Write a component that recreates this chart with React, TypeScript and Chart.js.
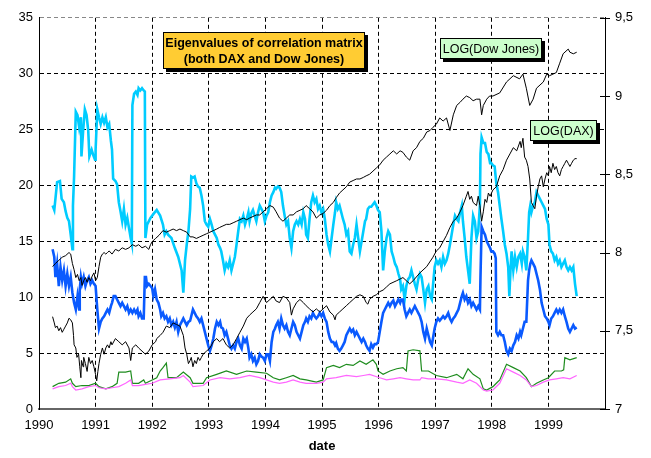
import React, { useEffect, useRef } from "react";
import { Chart, registerables } from "chart.js";

Chart.register(...registerables);

const FONT = "'Liberation Sans', Arial, Helvetica, sans-serif";

// x axis: calendar years
const yearTicks = [1990, 1991, 1992, 1993, 1994, 1995, 1996, 1997, 1998, 1999, 2000];
const leftTicks = [0, 5, 10, 15, 20, 25, 30, 35];
const rightTicks = [7, 7.5, 8, 8.5, 9, 9.5];

// Largest eigenvalue (cyan) [date, value]
const eigen1: [number, number][] = [
  [1990.24,18.2],[1990.27,17.8],[1990.32,20.3],[1990.37,20.4],[1990.40,18.8],[1990.44,18.5],[1990.47,17.7],[1990.50,17.1],[1990.53,16.8],[1990.56,15.6],[1990.59,14.3],[1990.60,18.2],[1990.62,20.8],[1990.65,26.6],[1990.68,26.3],[1990.71,25.2],[1990.74,26.1],[1990.75,22.6],[1990.78,24.9],[1990.81,26.8],[1990.84,26.3],[1990.87,24.9],[1990.89,22.6],[1990.93,23.2],[1990.96,22.7],[1990.99,22.3],[1991.00,23.2],[1991.03,26.8],[1991.06,26.1],[1991.09,25.5],[1991.12,26.1],[1991.15,25.6],[1991.18,26.1],[1991.21,25.2],[1991.24,25.5],[1991.27,24.0],[1991.29,23.2],[1991.31,20.6],[1991.35,20.4],[1991.38,20.1],[1991.41,18.5],[1991.44,17.7],[1991.47,16.8],[1991.50,17.9],[1991.53,16.5],[1991.56,17.1],[1991.59,16.2],[1991.62,15.3],[1991.64,14.8],[1991.65,27.2],[1991.68,28.2],[1991.71,28.4],[1991.74,28.1],[1991.76,28.7],[1991.79,28.5],[1991.82,28.7],[1991.85,28.5],[1991.87,28.4],[1991.88,15.3],[1991.91,16.5],[1991.97,17.1],[1992.03,17.5],[1992.08,17.8],[1992.14,17.3],[1992.19,16.5],[1992.22,15.6],[1992.25,15.9],[1992.28,15.6],[1992.34,15.3],[1992.40,14.4],[1992.46,13.6],[1992.52,12.4],[1992.55,10.4],[1992.58,13.3],[1992.61,14.7],[1992.64,15.9],[1992.67,17.9],[1992.69,20.8],[1992.72,20.7],[1992.75,20.8],[1992.78,20.2],[1992.81,19.9],[1992.84,19.8],[1992.87,19.1],[1992.90,18.2],[1992.93,16.8],[1992.96,16.5],[1992.99,16.3],[1993.02,17.0],[1993.05,16.5],[1993.08,15.9],[1993.11,15.6],[1993.14,15.3],[1993.17,14.7],[1993.20,14.4],[1993.22,14.1],[1993.25,13.3],[1993.28,12.4],[1993.31,13.0],[1993.34,12.7],[1993.37,13.3],[1993.40,12.4],[1993.43,13.0],[1993.46,13.6],[1993.49,14.7],[1993.52,15.9],[1993.55,17.0],[1993.58,16.8],[1993.61,17.3],[1993.64,16.5],[1993.67,17.0],[1993.70,17.6],[1993.72,16.8],[1993.75,17.5],[1993.78,17.8],[1993.81,17.3],[1993.84,16.8],[1993.87,17.6],[1993.90,18.2],[1993.96,17.6],[1993.99,16.8],[1994.02,17.3],[1994.05,17.6],[1994.08,18.5],[1994.11,19.1],[1994.14,19.4],[1994.17,19.8],[1994.19,19.7],[1994.22,19.9],[1994.25,19.8],[1994.28,19.4],[1994.31,18.2],[1994.34,17.3],[1994.37,16.5],[1994.40,16.8],[1994.43,15.3],[1994.46,14.4],[1994.49,15.9],[1994.52,16.5],[1994.55,16.8],[1994.58,16.5],[1994.61,17.0],[1994.64,16.5],[1994.67,17.6],[1994.70,17.0],[1994.72,15.6],[1994.75,15.3],[1994.78,17.0],[1994.81,18.5],[1994.84,19.1],[1994.87,18.5],[1994.90,18.8],[1994.93,17.9],[1994.96,18.2],[1994.99,17.6],[1995.02,17.9],[1995.05,17.0],[1995.08,15.6],[1995.11,14.7],[1995.14,14.1],[1995.17,15.3],[1995.20,16.5],[1995.23,17.6],[1995.25,18.5],[1995.28,17.9],[1995.31,18.2],[1995.34,17.6],[1995.37,17.0],[1995.40,16.5],[1995.43,15.6],[1995.46,15.9],[1995.49,14.1],[1995.52,13.9],[1995.55,14.7],[1995.58,15.3],[1995.61,16.5],[1995.64,15.3],[1995.67,14.1],[1995.70,15.0],[1995.73,15.9],[1995.76,16.8],[1995.78,17.0],[1995.81,17.9],[1995.84,18.1],[1995.87,18.1],[1995.90,18.3],[1995.93,18.5],[1995.96,18.2],[1995.99,17.8],[1996.02,17.6],[1996.05,15.9],[1996.08,12.4],[1996.11,14.1],[1996.14,15.3],[1996.17,15.9],[1996.20,15.6],[1996.23,14.1],[1996.26,13.6],[1996.29,13.0],[1996.32,12.7],[1996.35,12.1],[1996.38,11.6],[1996.40,10.7],[1996.43,11.0],[1996.46,9.8],[1996.49,11.0],[1996.52,11.6],[1996.55,11.8],[1996.58,12.4],[1996.61,11.8],[1996.64,11.2],[1996.67,10.7],[1996.70,11.6],[1996.73,12.1],[1996.76,11.8],[1996.79,10.7],[1996.82,9.5],[1996.85,10.7],[1996.88,11.0],[1996.91,10.1],[1996.94,9.8],[1996.96,11.0],[1996.99,12.7],[1997.02,13.3],[1997.05,13.0],[1997.08,13.3],[1997.11,12.7],[1997.14,13.6],[1997.17,13.0],[1997.20,13.3],[1997.23,13.9],[1997.26,14.7],[1997.29,15.6],[1997.32,16.5],[1997.35,17.3],[1997.38,17.0],[1997.41,16.8],[1997.44,17.6],[1997.47,18.2],[1997.49,16.8],[1997.52,15.3],[1997.55,13.6],[1997.58,12.4],[1997.61,11.2],[1997.64,15.3],[1997.67,17.3],[1997.70,16.8],[1997.73,15.3],[1997.76,15.9],[1997.79,18.2],[1997.80,22.8],[1997.82,24.3],[1997.85,23.8],[1997.88,23.8],[1997.91,23.0],[1997.94,22.8],[1997.97,22.0],[1997.99,22.0],[1998.02,21.8],[1998.05,21.7],[1998.08,20.2],[1998.11,19.4],[1998.14,18.2],[1998.17,17.0],[1998.20,15.9],[1998.23,14.7],[1998.26,13.9],[1998.29,12.7],[1998.31,10.1],[1998.33,12.4],[1998.35,14.1],[1998.38,12.4],[1998.41,13.6],[1998.44,12.7],[1998.47,13.6],[1998.50,13.9],[1998.53,13.0],[1998.55,14.1],[1998.58,13.6],[1998.61,12.4],[1998.64,15.3],[1998.66,17.6],[1998.68,18.2],[1998.70,17.6],[1998.73,18.2],[1998.76,18.5],[1998.79,19.4],[1998.82,19.1],[1998.85,18.8],[1998.88,18.5],[1998.91,18.2],[1998.94,17.9],[1998.97,17.0],[1999.00,16.5],[1999.02,14.7],[1999.05,14.1],[1999.08,13.9],[1999.11,13.3],[1999.14,13.6],[1999.17,13.0],[1999.20,13.3],[1999.23,12.7],[1999.26,13.0],[1999.29,13.3],[1999.32,12.7],[1999.35,12.4],[1999.38,12.7],[1999.41,12.4],[1999.44,12.7],[1999.47,11.2],[1999.50,10.1]
];

// Second eigenvalue (blue)
const eigen2: [number, number][] = [
  [1990.24,14.3],[1990.27,13.6],[1990.29,11.8],[1990.32,13.0],[1990.35,11.0],[1990.38,12.7],[1990.41,11.5],[1990.44,12.4],[1990.47,11.0],[1990.50,12.1],[1990.53,11.0],[1990.56,11.8],[1990.59,10.4],[1990.62,9.5],[1990.65,8.9],[1990.68,10.1],[1990.71,8.9],[1990.72,10.7],[1990.74,11.8],[1990.76,11.2],[1990.79,11.8],[1990.82,11.0],[1990.85,11.5],[1990.88,11.8],[1990.91,11.2],[1990.94,11.5],[1990.97,11.2],[1991.00,11.0],[1991.03,8.9],[1991.06,7.2],[1991.09,7.8],[1991.12,8.1],[1991.15,8.3],[1991.18,8.6],[1991.21,8.9],[1991.24,8.6],[1991.27,9.2],[1991.29,9.5],[1991.32,10.1],[1991.35,10.1],[1991.38,9.8],[1991.41,9.5],[1991.44,9.2],[1991.47,9.5],[1991.50,9.2],[1991.53,8.9],[1991.56,9.2],[1991.59,8.6],[1991.62,8.9],[1991.65,8.6],[1991.68,8.9],[1991.71,8.6],[1991.74,8.9],[1991.76,8.3],[1991.79,8.6],[1991.82,8.1],[1991.85,8.1],[1991.87,11.8],[1991.89,11.8],[1991.91,11.0],[1991.94,11.2],[1991.97,11.0],[1992.00,10.8],[1992.02,10.1],[1992.05,10.7],[1992.08,9.8],[1992.11,9.5],[1992.14,8.9],[1992.16,8.3],[1992.19,8.6],[1992.22,8.1],[1992.25,8.3],[1992.28,7.8],[1992.31,8.1],[1992.34,7.5],[1992.37,7.8],[1992.40,7.3],[1992.43,7.8],[1992.46,6.9],[1992.49,7.5],[1992.52,7.8],[1992.55,8.1],[1992.58,7.8],[1992.61,7.5],[1992.64,7.8],[1992.67,7.9],[1992.69,8.3],[1992.72,8.9],[1992.75,8.6],[1992.78,8.3],[1992.81,8.1],[1992.84,7.8],[1992.87,8.1],[1992.90,7.5],[1992.93,6.9],[1992.96,6.3],[1992.99,5.7],[1993.02,5.2],[1993.05,5.7],[1993.08,6.3],[1993.11,7.2],[1993.14,7.8],[1993.17,7.5],[1993.20,7.8],[1993.22,7.3],[1993.25,7.2],[1993.28,6.6],[1993.31,6.9],[1993.34,6.3],[1993.37,5.7],[1993.40,5.4],[1993.43,5.7],[1993.46,5.4],[1993.49,6.0],[1993.52,6.3],[1993.55,5.7],[1993.58,5.4],[1993.61,6.3],[1993.64,6.0],[1993.67,6.3],[1993.70,5.4],[1993.72,4.6],[1993.75,4.9],[1993.78,4.3],[1993.81,4.6],[1993.84,4.0],[1993.87,4.3],[1993.90,4.9],[1993.93,4.7],[1993.96,4.6],[1993.99,4.3],[1994.02,4.9],[1994.05,4.9],[1994.08,4.3],[1994.11,6.0],[1994.14,6.9],[1994.17,7.2],[1994.19,7.5],[1994.22,7.8],[1994.25,7.2],[1994.28,8.1],[1994.31,7.5],[1994.34,7.2],[1994.37,7.5],[1994.40,6.9],[1994.43,6.6],[1994.46,7.2],[1994.49,7.8],[1994.52,7.5],[1994.55,6.9],[1994.58,6.6],[1994.61,6.3],[1994.64,6.9],[1994.67,7.5],[1994.70,7.8],[1994.72,8.1],[1994.75,7.8],[1994.78,8.3],[1994.81,8.1],[1994.84,8.6],[1994.87,8.3],[1994.90,8.1],[1994.93,8.3],[1994.96,8.6],[1994.99,8.3],[1995.02,8.6],[1995.05,8.1],[1995.08,7.8],[1995.11,6.9],[1995.14,6.3],[1995.17,6.0],[1995.20,6.0],[1995.23,5.7],[1995.25,5.9],[1995.28,5.4],[1995.31,5.2],[1995.34,5.4],[1995.37,5.7],[1995.40,6.0],[1995.43,6.6],[1995.46,6.9],[1995.49,7.2],[1995.52,6.9],[1995.55,7.1],[1995.58,6.6],[1995.61,6.9],[1995.64,6.6],[1995.67,6.3],[1995.70,6.0],[1995.73,6.3],[1995.76,6.0],[1995.78,5.7],[1995.81,5.4],[1995.84,5.2],[1995.87,5.8],[1995.90,5.5],[1995.93,5.8],[1995.96,5.8],[1995.99,6.0],[1996.02,6.9],[1996.05,7.8],[1996.08,8.6],[1996.11,8.9],[1996.14,9.2],[1996.17,9.5],[1996.20,9.2],[1996.23,9.5],[1996.26,9.7],[1996.29,9.2],[1996.32,9.5],[1996.35,9.8],[1996.38,9.5],[1996.40,9.8],[1996.43,9.8],[1996.46,8.9],[1996.49,8.3],[1996.52,8.6],[1996.55,8.9],[1996.58,8.6],[1996.61,8.9],[1996.64,9.2],[1996.67,8.9],[1996.70,8.6],[1996.73,8.3],[1996.76,7.8],[1996.79,6.9],[1996.82,6.3],[1996.85,7.2],[1996.88,6.6],[1996.91,6.0],[1996.94,5.7],[1996.96,6.3],[1996.99,7.2],[1997.02,7.8],[1997.05,8.1],[1997.08,7.9],[1997.11,8.1],[1997.14,8.3],[1997.17,8.1],[1997.20,8.3],[1997.23,8.6],[1997.26,8.1],[1997.29,7.8],[1997.32,8.1],[1997.35,8.3],[1997.38,8.6],[1997.41,8.9],[1997.44,9.5],[1997.47,10.1],[1997.49,10.4],[1997.52,9.8],[1997.55,10.1],[1997.58,9.5],[1997.61,9.8],[1997.64,9.2],[1997.67,9.5],[1997.70,9.2],[1997.73,8.9],[1997.76,9.2],[1997.79,8.9],[1997.80,11.8],[1997.82,16.3],[1997.85,15.9],[1997.88,15.6],[1997.91,15.0],[1997.94,14.7],[1997.97,14.4],[1997.99,14.1],[1998.02,14.1],[1998.05,13.9],[1998.07,13.5],[1998.08,6.9],[1998.11,6.6],[1998.14,6.9],[1998.17,6.6],[1998.20,6.6],[1998.23,6.0],[1998.26,5.2],[1998.29,4.9],[1998.32,5.4],[1998.35,5.2],[1998.38,5.7],[1998.41,6.0],[1998.44,6.6],[1998.47,6.3],[1998.50,6.9],[1998.52,6.6],[1998.55,7.2],[1998.58,7.8],[1998.61,7.8],[1998.64,11.5],[1998.66,12.4],[1998.68,13.0],[1998.70,13.3],[1998.73,13.0],[1998.76,12.7],[1998.79,12.1],[1998.82,11.5],[1998.85,10.7],[1998.88,9.5],[1998.91,8.9],[1998.94,8.3],[1998.97,8.1],[1999.00,7.8],[1999.02,7.5],[1999.05,8.1],[1999.08,8.3],[1999.11,8.6],[1999.14,8.9],[1999.17,8.6],[1999.20,8.9],[1999.23,8.6],[1999.26,8.9],[1999.29,8.3],[1999.32,7.8],[1999.35,7.2],[1999.38,6.9],[1999.41,7.2],[1999.44,7.5],[1999.47,7.2],[1999.50,7.3]
];

// Third eigenvalue (green)
const eigen3: [number, number][] = [
  [1990.24,2.0],[1990.35,2.3],[1990.47,2.4],[1990.56,2.7],[1990.59,2.3],[1990.65,2.0],[1990.76,2.1],[1990.88,2.1],[1991.00,2.3],[1991.06,2.0],[1991.18,1.8],[1991.29,2.0],[1991.38,2.3],[1991.41,3.3],[1991.53,3.3],[1991.62,3.4],[1991.65,2.3],[1991.76,2.3],[1991.85,2.6],[1991.88,2.3],[1992.00,2.6],[1992.08,2.8],[1992.14,3.4],[1992.19,3.7],[1992.25,4.1],[1992.28,2.8],[1992.43,2.8],[1992.55,3.3],[1992.67,2.8],[1992.72,2.3],[1992.90,2.3],[1992.96,2.8],[1993.14,3.1],[1993.31,3.4],[1993.49,3.1],[1993.67,3.4],[1993.84,3.3],[1994.02,3.2],[1994.14,2.8],[1994.25,2.6],[1994.37,2.8],[1994.49,3.0],[1994.61,2.7],[1994.72,2.6],[1994.90,2.4],[1995.02,2.6],[1995.08,3.7],[1995.20,3.9],[1995.31,3.7],[1995.43,4.0],[1995.55,3.9],[1995.67,4.3],[1995.78,4.0],[1995.90,4.4],[1995.96,4.0],[1995.99,3.4],[1996.08,3.1],[1996.20,3.4],[1996.32,3.6],[1996.43,3.7],[1996.49,3.4],[1996.52,5.2],[1996.61,5.3],[1996.73,5.2],[1996.76,3.4],[1996.88,3.4],[1997.02,3.0],[1997.20,2.8],[1997.38,3.1],[1997.49,2.7],[1997.58,3.6],[1997.67,3.1],[1997.79,2.7],[1997.85,1.8],[1997.91,1.7],[1998.02,2.0],[1998.08,2.3],[1998.14,2.6],[1998.26,4.0],[1998.38,3.7],[1998.50,3.4],[1998.61,2.8],[1998.70,2.0],[1998.79,2.3],[1998.91,2.6],[1999.00,2.8],[1999.11,3.4],[1999.23,3.4],[1999.27,3.5],[1999.29,4.6],[1999.38,4.4],[1999.50,4.6]
];

// Fourth eigenvalue (magenta)
const eigen4: [number, number][] = [
  [1990.24,1.8],[1990.35,2.0],[1990.47,2.1],[1990.56,2.3],[1990.59,2.0],[1990.65,1.7],[1990.76,1.8],[1990.88,2.0],[1991.00,2.1],[1991.06,1.9],[1991.18,1.8],[1991.29,1.9],[1991.41,2.0],[1991.53,2.3],[1991.62,2.6],[1991.65,2.1],[1991.76,2.1],[1991.88,2.2],[1992.00,2.3],[1992.14,2.6],[1992.31,2.7],[1992.49,2.8],[1992.55,3.0],[1992.67,2.4],[1992.72,2.0],[1992.90,2.1],[1993.02,2.6],[1993.20,2.8],[1993.37,2.7],[1993.55,2.8],[1993.72,3.0],[1993.90,2.8],[1994.02,2.6],[1994.14,2.4],[1994.25,2.3],[1994.37,2.4],[1994.49,2.6],[1994.61,2.4],[1994.72,2.3],[1994.90,2.3],[1995.02,2.4],[1995.08,2.7],[1995.25,2.8],[1995.43,3.0],[1995.61,2.9],[1995.73,3.0],[1995.84,3.1],[1996.02,2.8],[1996.14,2.6],[1996.26,2.7],[1996.38,2.8],[1996.49,2.7],[1996.61,2.6],[1996.73,2.6],[1996.76,2.8],[1996.88,2.7],[1997.02,2.7],[1997.20,2.6],[1997.38,2.4],[1997.49,2.3],[1997.61,2.6],[1997.73,2.3],[1997.85,1.7],[1997.91,1.6],[1998.02,1.7],[1998.14,2.3],[1998.26,3.6],[1998.38,3.3],[1998.50,3.0],[1998.61,2.6],[1998.70,2.0],[1998.79,2.1],[1998.91,2.4],[1999.02,2.6],[1999.14,2.7],[1999.26,2.8],[1999.38,2.7],[1999.50,3.0]
];

// LOG(Dow Jones), right axis
const logDow: [number, number][] = [
  [1990.24,7.91],[1990.29,7.93],[1990.35,7.95],[1990.41,7.97],[1990.47,7.98],[1990.53,8.00],[1990.56,7.99],[1990.59,7.93],[1990.62,7.89],[1990.65,7.84],[1990.68,7.86],[1990.71,7.82],[1990.74,7.84],[1990.76,7.79],[1990.79,7.82],[1990.82,7.84],[1990.85,7.81],[1990.88,7.84],[1990.91,7.82],[1990.94,7.85],[1990.97,7.87],[1991.00,7.82],[1991.03,7.84],[1991.06,7.91],[1991.09,7.97],[1991.12,7.99],[1991.15,8.00],[1991.18,7.99],[1991.21,8.00],[1991.24,8.01],[1991.29,7.99],[1991.35,8.02],[1991.41,8.01],[1991.47,8.03],[1991.53,8.02],[1991.59,8.03],[1991.65,8.05],[1991.71,8.04],[1991.76,8.05],[1991.82,8.03],[1991.88,8.04],[1991.94,8.02],[1991.97,8.05],[1992.00,8.07],[1992.06,8.09],[1992.12,8.11],[1992.19,8.14],[1992.25,8.13],[1992.31,8.14],[1992.37,8.15],[1992.43,8.14],[1992.49,8.15],[1992.55,8.14],[1992.61,8.13],[1992.67,8.10],[1992.72,8.10],[1992.78,8.09],[1992.84,8.10],[1992.90,8.11],[1992.96,8.12],[1993.02,8.13],[1993.08,8.14],[1993.14,8.15],[1993.19,8.16],[1993.25,8.17],[1993.31,8.18],[1993.37,8.18],[1993.43,8.19],[1993.49,8.20],[1993.55,8.21],[1993.61,8.22],[1993.67,8.21],[1993.72,8.22],[1993.78,8.23],[1993.84,8.24],[1993.90,8.24],[1993.96,8.26],[1994.02,8.28],[1994.08,8.30],[1994.14,8.29],[1994.19,8.26],[1994.25,8.22],[1994.31,8.20],[1994.37,8.22],[1994.43,8.24],[1994.49,8.24],[1994.55,8.26],[1994.61,8.27],[1994.67,8.28],[1994.72,8.30],[1994.78,8.28],[1994.84,8.26],[1994.90,8.22],[1994.96,8.24],[1995.02,8.25],[1995.08,8.27],[1995.14,8.30],[1995.20,8.32],[1995.25,8.35],[1995.31,8.38],[1995.37,8.40],[1995.43,8.42],[1995.49,8.45],[1995.55,8.46],[1995.61,8.47],[1995.67,8.47],[1995.73,8.48],[1995.78,8.49],[1995.84,8.50],[1995.90,8.52],[1995.96,8.54],[1996.02,8.56],[1996.08,8.59],[1996.14,8.61],[1996.20,8.63],[1996.26,8.65],[1996.32,8.63],[1996.38,8.65],[1996.43,8.64],[1996.49,8.61],[1996.55,8.59],[1996.61,8.65],[1996.67,8.67],[1996.73,8.71],[1996.79,8.73],[1996.85,8.77],[1996.91,8.78],[1996.96,8.80],[1997.02,8.82],[1997.08,8.86],[1997.14,8.84],[1997.20,8.86],[1997.26,8.78],[1997.32,8.88],[1997.38,8.94],[1997.44,8.96],[1997.49,8.98],[1997.55,9.00],[1997.61,8.99],[1997.67,8.97],[1997.73,8.98],[1997.79,8.98],[1997.82,8.88],[1997.85,8.94],[1997.91,8.98],[1997.96,9.00],[1998.02,9.00],[1998.14,9.02],[1998.26,9.09],[1998.38,9.13],[1998.49,9.11],[1998.55,9.14],[1998.61,9.05],[1998.67,8.94],[1998.73,8.98],[1998.79,9.05],[1998.91,9.09],[1998.97,9.14],[1999.02,9.13],[1999.14,9.15],[1999.20,9.21],[1999.26,9.27],[1999.35,9.30],[1999.38,9.28],[1999.44,9.27],[1999.50,9.28]
];

// LOG(DAX), right axis
const logDax: [number, number][] = [
  [1990.24,7.59],[1990.27,7.55],[1990.29,7.52],[1990.32,7.53],[1990.35,7.50],[1990.38,7.52],[1990.41,7.49],[1990.44,7.51],[1990.47,7.53],[1990.50,7.55],[1990.53,7.58],[1990.56,7.57],[1990.59,7.55],[1990.61,7.47],[1990.62,7.41],[1990.65,7.39],[1990.67,7.33],[1990.70,7.35],[1990.72,7.27],[1990.74,7.20],[1990.75,7.31],[1990.78,7.27],[1990.79,7.33],[1990.82,7.29],[1990.85,7.24],[1990.88,7.33],[1990.91,7.29],[1990.94,7.31],[1990.97,7.27],[1991.00,7.22],[1991.02,7.18],[1991.04,7.24],[1991.06,7.29],[1991.09,7.35],[1991.12,7.39],[1991.15,7.35],[1991.18,7.39],[1991.21,7.41],[1991.24,7.39],[1991.27,7.43],[1991.29,7.41],[1991.35,7.45],[1991.41,7.43],[1991.47,7.41],[1991.53,7.43],[1991.59,7.39],[1991.62,7.31],[1991.65,7.39],[1991.71,7.41],[1991.76,7.39],[1991.82,7.37],[1991.88,7.35],[1991.94,7.37],[1992.00,7.41],[1992.06,7.43],[1992.08,7.45],[1992.14,7.47],[1992.19,7.49],[1992.25,7.53],[1992.31,7.52],[1992.37,7.55],[1992.43,7.54],[1992.49,7.53],[1992.55,7.47],[1992.58,7.39],[1992.61,7.35],[1992.64,7.29],[1992.67,7.31],[1992.69,7.33],[1992.72,7.27],[1992.75,7.31],[1992.78,7.29],[1992.81,7.33],[1992.84,7.31],[1992.87,7.33],[1992.90,7.35],[1992.96,7.37],[1993.02,7.39],[1993.08,7.43],[1993.14,7.45],[1993.19,7.43],[1993.25,7.45],[1993.31,7.41],[1993.37,7.39],[1993.43,7.41],[1993.49,7.45],[1993.55,7.49],[1993.61,7.53],[1993.67,7.58],[1993.72,7.60],[1993.78,7.62],[1993.84,7.64],[1993.90,7.68],[1993.96,7.72],[1994.02,7.68],[1994.08,7.70],[1994.14,7.72],[1994.19,7.69],[1994.25,7.68],[1994.31,7.72],[1994.37,7.71],[1994.43,7.68],[1994.46,7.60],[1994.49,7.64],[1994.55,7.68],[1994.61,7.70],[1994.67,7.68],[1994.72,7.66],[1994.78,7.64],[1994.84,7.62],[1994.90,7.64],[1994.96,7.62],[1995.02,7.64],[1995.08,7.66],[1995.14,7.62],[1995.20,7.60],[1995.23,7.57],[1995.25,7.60],[1995.31,7.62],[1995.37,7.64],[1995.43,7.66],[1995.49,7.68],[1995.55,7.70],[1995.61,7.72],[1995.67,7.73],[1995.73,7.72],[1995.78,7.68],[1995.81,7.67],[1995.84,7.70],[1995.90,7.72],[1995.96,7.73],[1996.02,7.75],[1996.08,7.76],[1996.14,7.78],[1996.20,7.80],[1996.32,7.82],[1996.43,7.84],[1996.49,7.82],[1996.55,7.80],[1996.61,7.82],[1996.73,7.87],[1996.85,7.91],[1996.96,7.97],[1997.02,8.01],[1997.08,8.03],[1997.14,8.07],[1997.20,8.11],[1997.26,8.16],[1997.32,8.20],[1997.38,8.22],[1997.44,8.26],[1997.49,8.30],[1997.55,8.36],[1997.58,8.39],[1997.61,8.34],[1997.64,8.36],[1997.67,8.32],[1997.73,8.30],[1997.76,8.36],[1997.79,8.30],[1997.82,8.20],[1997.85,8.26],[1997.88,8.34],[1997.91,8.32],[1997.94,8.38],[1997.97,8.36],[1998.02,8.40],[1998.08,8.42],[1998.14,8.49],[1998.20,8.53],[1998.26,8.59],[1998.32,8.63],[1998.38,8.67],[1998.44,8.65],[1998.50,8.71],[1998.52,8.67],[1998.55,8.73],[1998.58,8.61],[1998.61,8.59],[1998.64,8.55],[1998.67,8.47],[1998.70,8.32],[1998.73,8.30],[1998.76,8.28],[1998.79,8.36],[1998.82,8.42],[1998.85,8.47],[1998.88,8.49],[1998.91,8.42],[1998.94,8.47],[1998.97,8.51],[1999.00,8.49],[1999.02,8.55],[1999.05,8.51],[1999.08,8.57],[1999.11,8.53],[1999.14,8.55],[1999.17,8.51],[1999.20,8.49],[1999.23,8.53],[1999.26,8.55],[1999.29,8.57],[1999.32,8.59],[1999.35,8.57],[1999.38,8.55],[1999.41,8.57],[1999.44,8.59],[1999.47,8.60],[1999.50,8.60]
];

// Text boxes (pixel geometry)
const titleLines = ["Eigenvalues of correlation matrix", "(both DAX and Dow Jones)"];
const boxes = [
  { x: 163, y: 32, w: 202, h: 37, fill: "#FFCC33", lines: titleLines, font: `bold 12.5px ${FONT}`, lineGap: 16 },
  { x: 440, y: 38, w: 102, h: 21, fill: "#CCFFCC", lines: ["LOG(Dow Jones)"], font: `12.5px ${FONT}`, lineGap: 0 },
  { x: 530, y: 120, w: 67, h: 21, fill: "#CCFFCC", lines: ["LOG(DAX)"], font: `12.5px ${FONT}`, lineGap: 0 },
];

const toXY = (arr: [number, number][]) => arr.map(([x, y]) => ({ x, y }));

const overlayPlugin = {
  id: "overlay",
  afterDraw(chart: any) {
    const ctx = chart.ctx as CanvasRenderingContext2D;
    const y2 = chart.scales.y2;
    ctx.save();
    ctx.strokeStyle = "#000";
    ctx.lineWidth = 1;
    rightTicks.forEach((v) => {
      const py = Math.round(y2.getPixelForValue(v)) + 0.5;
      ctx.beginPath();
      ctx.moveTo(y2.left - 5, py);
      ctx.lineTo(y2.left + 5, py);
      ctx.stroke();
    });
    boxes.forEach((b) => {
      ctx.fillStyle = "#000";
      ctx.fillRect(b.x + 3, b.y + 3, b.w, b.h);
      ctx.fillStyle = b.fill;
      ctx.fillRect(b.x, b.y, b.w, b.h);
      ctx.strokeStyle = "#000";
      ctx.lineWidth = 1;
      ctx.strokeRect(b.x + 0.5, b.y + 0.5, b.w - 1, b.h - 1);
      ctx.fillStyle = "#000";
      ctx.font = b.font;
      ctx.textAlign = "center";
      ctx.textBaseline = "middle";
      const cx = b.x + b.w / 2;
      const n = b.lines.length;
      const cy = b.y + b.h / 2 + 1;
      b.lines.forEach((t, i) => {
        ctx.fillText(t, cx, cy + (i - (n - 1) / 2) * b.lineGap);
      });
    });
    ctx.restore();
  },
};

export default function App() {
  const ref = useRef<HTMLCanvasElement | null>(null);
  useEffect(() => {
    if (!ref.current) return;
    const gridDash = [4, 3];
    const chart = new Chart(ref.current, {
      type: "line",
      data: {
        datasets: [
          { label: "LOG(Dow Jones)", data: toXY(logDow), yAxisID: "y2", borderColor: "#000000", borderWidth: 1, pointRadius: 0, order: 0 },
          { label: "LOG(DAX)", data: toXY(logDax), yAxisID: "y2", borderColor: "#000000", borderWidth: 1, pointRadius: 0, order: 0 },
          { label: "eigen4", data: toXY(eigen4), yAxisID: "y", borderColor: "#FF66FF", borderWidth: 1.2, pointRadius: 0, order: 1 },
          { label: "eigen3", data: toXY(eigen3), yAxisID: "y", borderColor: "#1E8C1E", borderWidth: 1.2, pointRadius: 0, order: 2 },
          { label: "eigen2", data: toXY(eigen2), yAxisID: "y", borderColor: "#0A5AFF", borderWidth: 2.6, pointRadius: 0, order: 3 },
          { label: "eigen1", data: toXY(eigen1), yAxisID: "y", borderColor: "#00CCFF", borderWidth: 2.6, pointRadius: 0, order: 4 },
        ] as any,
      },
      options: {
        responsive: false,
        maintainAspectRatio: false,
        animation: false,
        devicePixelRatio: 1,
        layout: { padding: { top: 7, left: 0, right: 0, bottom: 0 } },
        plugins: { legend: { display: false }, tooltip: { enabled: false } },
        elements: { line: { tension: 0 } },
        scales: {
          x: {
            type: "linear",
            min: 1990,
            max: 2000,
            afterBuildTicks: (s: any) => {
              s.ticks = yearTicks.map((v) => ({ value: v }));
            },
            afterFit: (s: any) => {
              s.height = 49;
            },
            ticks: {
              autoSkip: false,
              maxRotation: 0,
              padding: 9,
              color: "#000",
              font: { family: FONT, size: 13 },
              callback: (v: any) => (Number(v) === 2000 ? "" : String(v)),
            },
            grid: {
              drawTicks: false,
              lineWidth: 1,
              color: (c: any) => {
                const v = c.tick && c.tick.value;
                return v === 1990 || v === 2000 ? "rgba(0,0,0,0)" : "#000";
              },
            },
            border: { display: true, color: "#666", width: 2, dash: gridDash },
            title: {
              display: true,
              text: "date",
              color: "#000",
              font: { family: FONT, size: 13, weight: "bold" },
              padding: { top: 0, bottom: 4 },
            },
          },
          y: {
            position: "left",
            min: 0,
            max: 35,
            afterBuildTicks: (s: any) => {
              s.ticks = leftTicks.map((v) => ({ value: v }));
            },
            afterFit: (s: any) => {
              s.width = 39;
            },
            ticks: {
              padding: 6,
              color: "#000",
              font: { family: FONT, size: 13 },
              callback: (v: any) => String(v),
            },
            grid: {
              drawTicks: false,
              lineWidth: 1,
              color: (c: any) => {
                const v = c.tick && c.tick.value;
                if (v === 0) return "rgba(0,0,0,0)";
                if (v === 35) return "#888";
                return "#000";
              },
            },
            border: { display: true, color: "#000", width: 1, dash: gridDash },
          },
          y2: {
            position: "right",
            min: 7,
            max: 9.5,
            afterBuildTicks: (s: any) => {
              s.ticks = rightTicks.map((v) => ({ value: v }));
            },
            afterFit: (s: any) => {
              s.width = 46;
            },
            ticks: {
              padding: 10,
              color: "#000",
              font: { family: FONT, size: 13 },
              callback: (v: any) => String(v).replace(".", ","),
            },
            grid: { display: false, drawTicks: false },
            border: { display: true, color: "#000", width: 1 },
          },
        },
      } as any,
      plugins: [overlayPlugin],
    });
    return () => chart.destroy();
  }, []);

  return (
    <div style={{ position: "absolute", left: 0, top: 0, width: 651, height: 458, background: "#fff" }}>
      <canvas ref={ref} width={651} height={458} style={{ display: "block", width: 651, height: 458 }} />
    </div>
  );
}
